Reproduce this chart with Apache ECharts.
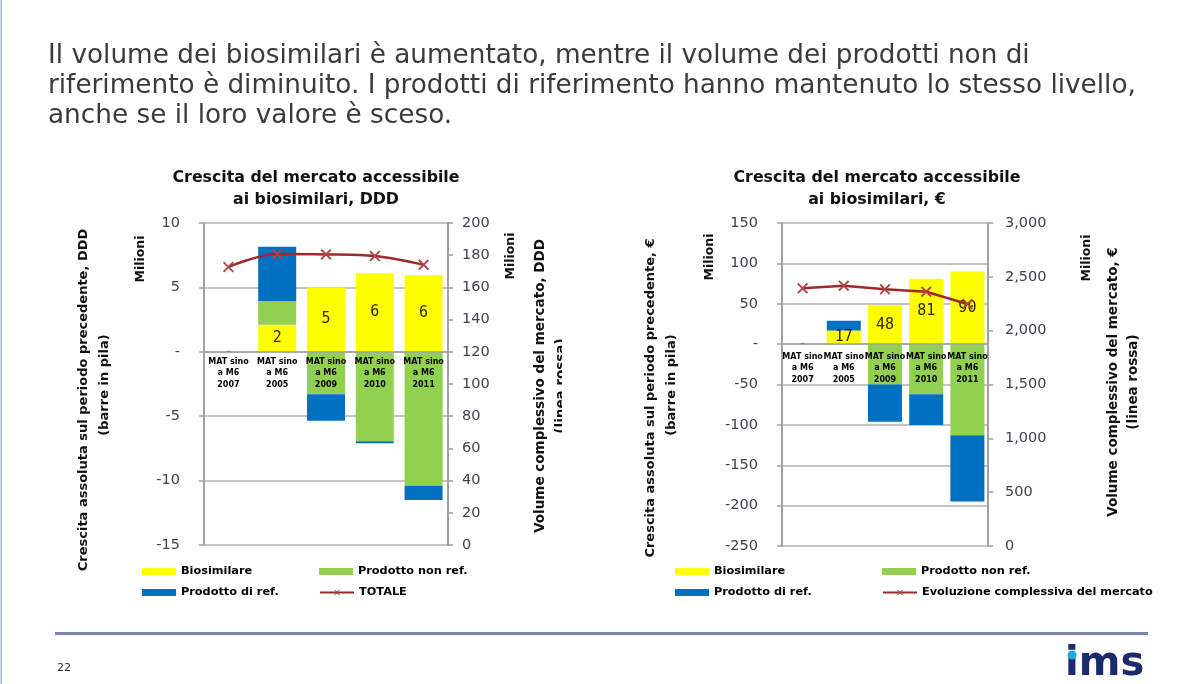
<!DOCTYPE html>
<html>
<head>
<meta charset="utf-8">
<script src="https://cdn.jsdelivr.net/npm/echarts@6/dist/echarts.min.js"></script>
<style>
html,body{margin:0;padding:0;background:#fff;}
#c{width:1195px;height:684px;}
</style>
</head>
<body>
<div id="c"></div>
<script>
// ---- data ----
const categories = ['MAT sino\na M6\n2007', 'MAT sino\na M6\n2005', 'MAT sino\na M6\n2009', 'MAT sino\na M6\n2010', 'MAT sino\na M6\n2011'];
// Chart 1: DDD (Milioni)
const dddBiosimilare = [0, 2.1, 5.0, 6.1, 5.95];
const dddNonRef = [0, 1.85, -3.3, -6.95, -10.4];
const dddRef = [0, 4.2, -2.05, -0.15, -1.1];
const dddTotale = [172.7, 180.7, 180.5, 179.5, 174];
// Chart 2: € (Milioni)
const eurBiosimilare = [0, 17, 48, 81, 90];
const eurNonRef = [0, -1, -50, -62, -113];
const eurRef = [0, 12, -46, -38, -82];
const eurTotale = [2393, 2418, 2384, 2362, 2248];

const headline = 'Il volume dei biosimilari è aumentato, mentre il volume dei prodotti non di\nriferimento è diminuito. I prodotti di riferimento hanno mantenuto lo stesso livello,\nanche se il loro valore è sceso.';

// ---- styles ----
const YELLOW = '#FFFF00', GREEN = '#92D050', BLUE = '#0070C0', RED = '#9c2a2c';
const AX = '#a0a0a0';
const TICKCOL = '#40404f';
const FF = 'DejaVu Sans';
const XSYM = 'path://M0,1.2L1.2,0L5,3.8L8.8,0L10,1.2L6.2,5L10,8.8L8.8,10L5,6.2L1.2,10L0,8.8L3.8,5Z';

function dashZero(v) { return v === 0 ? '-' : String(v); }
function thousands(v) { return v.toLocaleString('en-US'); }

function yAxisBase(gridIndex, min, max, interval, position, fmt, split, margin) {
  return {
    type: 'value', gridIndex, min, max, interval, position,
    axisLine: { show: true, lineStyle: { color: AX, width: 2 } },
    axisTick: { show: true, length: 5, lineStyle: { color: AX, width: 1.5 } },
    splitLine: { show: split, lineStyle: { color: '#b0b0b0', width: 1.6 } },
    axisLabel: { formatter: fmt, color: TICKCOL, fontFamily: FF, fontSize: 14.5, margin }
  };
}
function xAxisBase(gridIndex, labelMargin) {
  return {
    type: 'category', gridIndex, data: categories, z: 10,
    axisLine: { show: false, onZero: false },
    axisTick: { show: false },
    axisLabel: { interval: 0, color: '#000', fontFamily: FF, fontWeight: 'bold', fontSize: 8, lineHeight: 11.5, margin: labelMargin }
  };
}
function barSeries(name, color, data, xi, yi, stack, withLabel, bw, zeroLine) {
  const s = {
    name, type: 'bar', stack, xAxisIndex: xi, yAxisIndex: yi, data, barWidth: bw,
    itemStyle: { color },
    label: withLabel ? {
      show: true, position: 'inside', color: '#2b2b00', fontFamily: 'DejaVu Sans Mono', fontSize: 15,
      formatter: p => p.value === 0 ? '-' : String(Math.round(p.value))
    } : { show: false }
  };
  if (zeroLine) {
    s.markLine = { silent: true, symbol: 'none', label: { show: false }, animation: false,
      lineStyle: { color: AX, width: 1.6, type: 'solid' }, data: [{ yAxis: 0 }] };
  }
  return s;
}
function lineSeries(name, data, xi, yi, smooth) {
  return {
    name, type: 'line', xAxisIndex: xi, yAxisIndex: yi, data, smooth, z: 5,
    symbol: XSYM, symbolSize: 11,
    lineStyle: { color: RED, width: 2.5 },
    itemStyle: { color: '#b04446' }
  };
}
function leg(name, left, top, icon) {
  return {
    data: [icon ? { name, icon } : name], left, top, padding: 0, selectedMode: false,
    itemWidth: 34, itemHeight: 7, itemGap: 0,
    textStyle: { fontFamily: FF, fontWeight: 'bold', fontSize: 11.3, color: '#000' }
  };
}
function vtext(text, x, y, size) {
  return { type: 'text', x, y, rotation: Math.PI / 2, z: 20,
    style: { text, font: 'bold ' + size + 'px "' + FF + '"', fill: '#111', align: 'center', verticalAlign: 'middle' } };
}
function ctext(text, x, y) {
  return { type: 'text', x, y, z: 20,
    style: { text, font: 'bold 15.8px "' + FF + '"', fill: '#111', align: 'center', verticalAlign: 'top', lineHeight: 22 } };
}

const chart = echarts.init(document.getElementById('c'), null, { renderer: 'canvas' });
chart.setOption({
  animation: false,
  backgroundColor: '#fff',
  grid: [
    { left: 204, top: 223, width: 244, height: 322 },
    { left: 782, top: 223, width: 206, height: 323 }
  ],
  xAxis: [xAxisBase(0, -189), xAxisBase(1, -195)],
  yAxis: [
    yAxisBase(0, -15, 10, 5, 'left', dashZero, true, 24),
    yAxisBase(0, 0, 200, 20, 'right', v => String(v), false, 14),
    yAxisBase(1, -250, 150, 50, 'left', dashZero, true, 24),
    yAxisBase(1, 0, 3000, 500, 'right', thousands, false, 17)
  ],
  legend: [
    leg('Biosimilare', 142, 566, 'rect'),
    leg('Prodotto non ref.', 319, 566, 'rect'),
    leg('Prodotto di ref.', 142, 587, 'rect'),
    leg('TOTALE', 319, 587),
    leg('Biosimilare', 675, 566, 'rect'),
    leg('Prodotto non ref.', 882, 566, 'rect'),
    leg('Prodotto di ref.', 675, 587, 'rect'),
    leg('Evoluzione complessiva del mercato', 882, 587)
  ],
  series: [
    barSeries('Biosimilare', YELLOW, dddBiosimilare, 0, 0, 'ddd', true, 38, false),
    barSeries('Prodotto non ref.', GREEN, dddNonRef, 0, 0, 'ddd', false, 38, false),
    barSeries('Prodotto di ref.', BLUE, dddRef, 0, 0, 'ddd', false, 38, true),
    lineSeries('TOTALE', dddTotale, 0, 1, 0.35),
    barSeries('Biosimilare', YELLOW, eurBiosimilare, 1, 2, 'eur', true, 34, false),
    barSeries('Prodotto non ref.', GREEN, eurNonRef, 1, 2, 'eur', false, 34, false),
    barSeries('Prodotto di ref.', BLUE, eurRef, 1, 2, 'eur', false, 34, true),
    lineSeries('Evoluzione complessiva del mercato', eurTotale, 1, 3, false)
  ],
  graphic: [
    { type: 'rect', shape: { x: 0.5, y: 0, width: 1.5, height: 684 }, style: { fill: '#9fb6d9' } },
    { type: 'text', x: 48, y: 41, style: { text: headline, font: '26.3px "' + FF + '"', fill: '#3a3a3a', lineHeight: 30, align: 'left', verticalAlign: 'top' } },
    ctext('Crescita del mercato accessibile\nai biosimilari, DDD', 316, 167),
    ctext('Crescita del mercato accessibile\nai biosimilari, €', 877, 167),
    // left chart axis titles
    vtext('Milioni', 141, 259, 12.5),
    vtext('Crescita assoluta sul periodo precedente, DDD', 84, 400, 13),
    vtext('(barre in pila)', 105, 385, 13),
    vtext('Milioni', 511, 256, 12.5),
    vtext('Volume complessivo del mercato, DDD', 540, 386, 13.5),
    vtext('(linea rossa)', 561, 386, 13.5),
    { type: 'rect', z: 21, shape: { x: 562, y: 300, width: 60, height: 170 }, style: { fill: '#fff' } },
    // right chart axis titles
    vtext('Crescita assoluta sul periodo precedente, €', 651, 398, 13),
    vtext('(barre in pila)', 672, 385, 13),
    vtext('Milioni', 710, 257, 12.5),
    vtext('Milioni', 1087, 258, 12.5),
    vtext('Volume complessivo del mercato, €', 1113, 382, 13.5),
    vtext('(linea rossa)', 1133, 382, 13.5),
    // footer
    { type: 'rect', shape: { x: 55, y: 632, width: 1093, height: 3 }, style: { fill: '#7d84ad' } },
    { type: 'text', x: 57, y: 663, style: { text: '22', font: '11px "' + FF + '"', fill: '#333' } },
    { type: 'text', x: 1065, y: 645, style: { text: 'ims', font: 'bold 40px "' + FF + '"', fill: '#1b2a6b' } },
    { type: 'circle', z: 21, shape: { cx: 1072, cy: 655, r: 4.5 }, style: { fill: '#22a7d8' } }
  ]
});
</script>
</body>
</html>
